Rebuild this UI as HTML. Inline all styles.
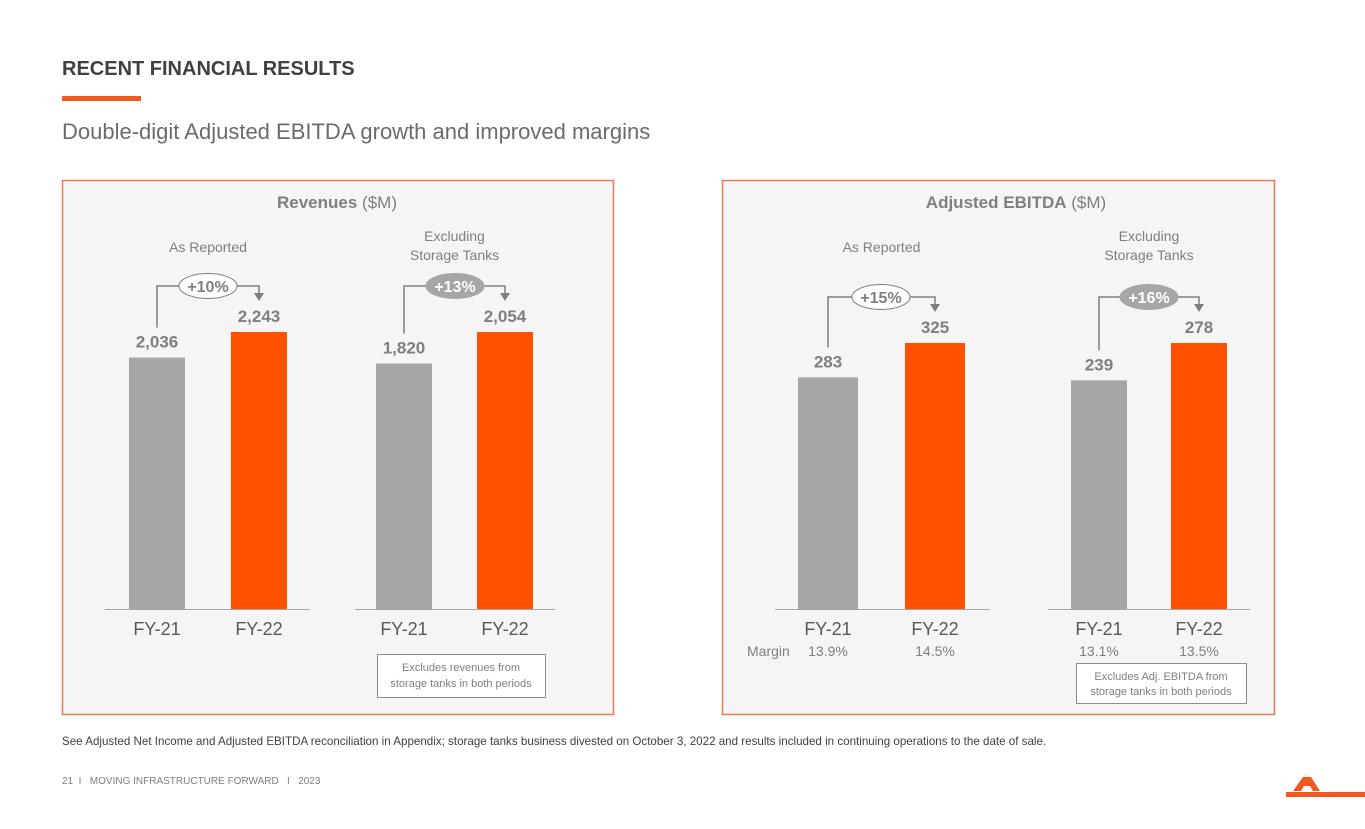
<!DOCTYPE html>
<html><head><meta charset="utf-8"><style>
body{margin:0;width:1365px;height:829px;background:#fff;overflow:hidden;font-family:"Liberation Sans",sans-serif}
svg{position:absolute;left:0;top:0}
</style></head><body>
<svg id="s" width="1365" height="829" xmlns="http://www.w3.org/2000/svg" font-family="Liberation Sans, sans-serif">
<text x="62" y="75" font-size="20" font-weight="bold" fill="#404040">RECENT FINANCIAL RESULTS</text>
<rect x="62" y="96" width="79" height="5" fill="#f05a22"/>
<text x="62" y="139" font-size="22" fill="#6b6b6b">Double-digit Adjusted EBITDA growth and improved margins</text>
<rect x="62.5" y="180.5" width="551" height="534" fill="#f5f5f5" stroke="#e97a55" stroke-width="1.5"/>
<rect x="722.5" y="180.5" width="552" height="534" fill="#f5f5f5" stroke="#e97a55" stroke-width="1.5"/>
<text x="337" y="208" font-size="17" fill="#7f7f7f" text-anchor="middle"><tspan font-weight="bold">Revenues</tspan> ($M)</text>
<text x="1016" y="208" font-size="17" fill="#7f7f7f" text-anchor="middle"><tspan font-weight="bold">Adjusted EBITDA</tspan> ($M)</text>
<g id="g"></g>
<rect x="377.5" y="654.5" width="168" height="43" fill="#fff" stroke="#8c8c8c"/>
<text x="461" y="671" font-size="11" fill="#7f7f7f" text-anchor="middle"><tspan x="461">Excludes revenues from</tspan><tspan x="461" dy="16">storage tanks in both periods</tspan></text>
<rect x="1076.5" y="663.5" width="170" height="40" fill="#fff" stroke="#8c8c8c"/>
<text x="1161" y="680" font-size="11" fill="#7f7f7f" text-anchor="middle"><tspan x="1161">Excludes Adj. EBITDA from</tspan><tspan x="1161" dy="15">storage tanks in both periods</tspan></text>
<text x="747" y="656" font-size="14" fill="#7f7f7f">Margin</text>
<text x="62" y="745" font-size="11.6" fill="#404040">See Adjusted Net Income and Adjusted EBITDA reconciliation in Appendix; storage tanks business divested on October 3, 2022 and results included in continuing operations to the date of sale.</text>
<text x="62" y="784" font-size="10" fill="#7f7f7f" xml:space="preserve" style="white-space:pre">21  I   MOVING INFRASTRUCTURE FORWARD   I   2023</text>
<polygon points="1303,777 1311,777 1320,791 1313,791 1310,786 1304,786 1301,791 1293,791" fill="#f05a22"/>
<rect x="1286" y="792" width="79" height="5" fill="#f05a22"/>
</svg>
<script>
const groupLabels=["As Reported","Excluding|Storage Tanks","As Reported","Excluding|Storage Tanks"];
const fy21Values=[2036,1820,283,239];
const fy22Values=[2243,2054,325,278];
const growthLabels=["+10%","+13%","+15%","+16%"];
const margins21=["","","13.9%","13.1%"];
const margins22=["","","14.5%","13.5%"];
const categories=["FY-21","FY-22"];
const layout=[{x1:157,x2:259,w:56,lx:105,rx:310,H:277,fill:false,cy:286,bx:208},{x1:404,x2:505,w:56,lx:355,rx:555,H:277,fill:true,cy:286,bx:455},{x1:828,x2:935,w:60,lx:775,rx:990,H:266,fill:false,cy:297,bx:881},{x1:1099,x2:1199,w:56,lx:1048,rx:1250,H:266,fill:true,cy:297,bx:1149}];
const base=609,NS="http://www.w3.org/2000/svg",g=document.getElementById('g');
function mk(t,a,txt){const e=document.createElementNS(NS,t);for(const k in a)e.setAttribute(k,a[k]);if(txt!=null)e.textContent=txt;g.appendChild(e);return e;}
function yScale(v,max,H){return base-v/max*H;}
const fmt=v=>v.toLocaleString('en-US');
for(let i=0;i<4;i++){
 const L=layout[i],mx=Math.max(fy21Values[i],fy22Values[i]);
 const y1=yScale(fy21Values[i],mx,L.H),y2=yScale(fy22Values[i],mx,L.H);
 let e=mk('line',{x1:L.lx,x2:L.rx,y1:base+0.5,y2:base+0.5,stroke:'#a6a6a6','stroke-width':1});
 
 
 e=mk('rect',{x:L.x1-L.w/2,y:y1,width:L.w,height:base-y1,fill:'#a6a6a6'});
 
 
 e=mk('rect',{x:L.x2-L.w/2,y:y2,width:L.w,height:base-y2,fill:'#ff5100'});
 
 
 e=mk('text',{x:L.x1,y:y1-10,'font-size':17,'font-weight':'bold',fill:'#7f7f7f','text-anchor':'middle'},fmt(fy21Values[i]));
 
 
 e=mk('text',{x:L.x2,y:y2-10,'font-size':17,'font-weight':'bold',fill:'#7f7f7f','text-anchor':'middle'},fmt(fy22Values[i]));
 
 
 [L.x1,L.x2].forEach((x,j)=>{e=mk('text',{x:x,y:635,'font-size':18,fill:'#595959','text-anchor':'middle'},categories[j]);
 
 });
 if(margins21[i]){e=mk('text',{x:L.x1,y:656,'font-size':14,fill:'#7f7f7f','text-anchor':'middle'},margins21[i]);
 
 
 e=mk('text',{x:L.x2,y:656,'font-size':14,fill:'#7f7f7f','text-anchor':'middle'},margins22[i]);
 
 }
 const parts=groupLabels[i].split('|'),cx=(L.x1+L.x2)/2;
 parts.forEach((p,k)=>{e=mk('text',{x:cx,y:(parts.length==1?252:241)+k*19,'font-size':14,fill:'#7f7f7f','text-anchor':'middle'},p);
 
 });
 const cy=L.cy;
 e=mk('path',{d:`M${L.x1} ${y1-30} V${cy} H${L.x2} V${y2-38}`,fill:'none',stroke:'#7f7f7f','stroke-width':1.5});
 
 
 e=mk('polygon',{points:`${L.x2-5},${y2-39} ${L.x2+5},${y2-39} ${L.x2},${y2-31}`,fill:'#7f7f7f'});
 
 
 e=mk('ellipse',{cx:L.bx,cy:cy,rx:29,ry:12.5,fill:L.fill?'#a6a6a6':'#fff',stroke:L.fill?'#a6a6a6':'#7f7f7f'});
 
 
 e=mk('text',{x:L.bx,y:cy+6,'font-size':16,'font-weight':'bold',fill:L.fill?'#fff':'#7f7f7f','text-anchor':'middle'},growthLabels[i]);
 
 
}
</script>
</body></html>
